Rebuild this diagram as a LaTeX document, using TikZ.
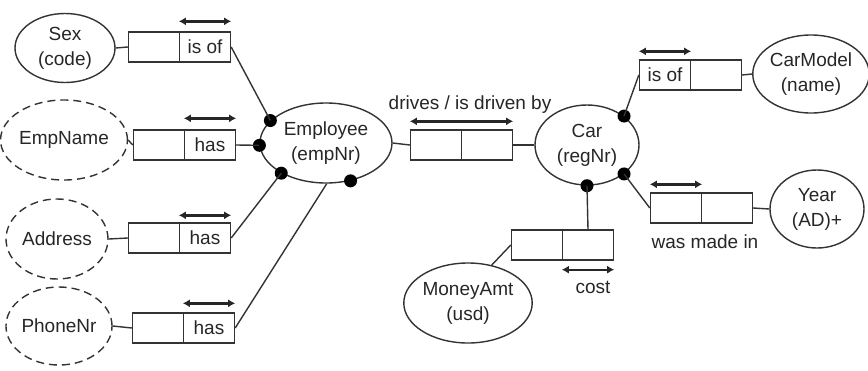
\documentclass[tikz,border=0pt]{standalone}
\usepackage{fontspec}
\setmainfont{Liberation Sans}
\usetikzlibrary{shapes.geometric,arrows.meta}
\begin{document}
\begin{tikzpicture}[x=1pt,y=-1pt,
  every node/.style={font=\fontsize{19}{25}\selectfont, text=black!85},
  ent/.style={ellipse,draw=black!80,line width=1.4pt,inner sep=0pt,align=center},
  valt/.style={ent,dash pattern=on 8pt off 5pt},
  role/.style={rectangle,draw=black!80,line width=1.4pt,minimum width=51pt,minimum height=30pt,inner sep=0pt},
  conn/.style={draw=black!80,line width=1.4pt},
  dotn/.style={circle,fill=black,inner sep=0pt,minimum size=13pt},
  uniq/.style={draw=black!85,line width=2.4pt,{Latex[length=7pt,width=8pt]}-{Latex[length=7pt,width=8pt]}}
]
\useasboundingbox (0,0) rectangle (868,370);

% entity / value ellipses
\node[ent,minimum width=100pt,minimum height=69pt] (sex) at (65,48) {Sex\\(code)};
\node[valt,minimum width=98pt,minimum height=80pt] (empname) at (64,140) {EmpName};
\node[valt,minimum width=102pt,minimum height=80pt] (address) at (57,239) {Address};
\node[valt,minimum width=102pt,minimum height=78pt] (phone) at (59,326) {PhoneNr};
\node[ent,minimum width=132pt,minimum height=80pt] (emp) at (326,143) {Employee\\(empNr)};
\node[ent,minimum width=104pt,minimum height=80pt] (car) at (587,145) {Car\\(regNr)};
\node[ent,minimum width=106pt,minimum height=78pt] (carmodel) at (811,74) {CarModel\\(name)};
\node[ent,minimum width=94pt,minimum height=78pt] (year) at (817,209) {Year\\(AD)+};
\node[ent,minimum width=118pt,minimum height=80pt] (money) at (468,303) {MoneyAmt\\(usd)};

% role boxes
\node[role] (sexL) at (154,47) {};
\node[role] (sexR) at (205,47) {is of};
\node[role] (enL) at (159,145) {};
\node[role] (enR) at (210,145) {has};
\node[role] (adL) at (154,238) {};
\node[role] (adR) at (205,238) {has};
\node[role] (phL) at (158,328) {};
\node[role] (phR) at (209,328) {has};
\node[role] (drL) at (436,145) {};
\node[role] (drR) at (487,145) {};
\node[role] (cmL) at (665,75) {is of};
\node[role] (cmR) at (716,75) {};
\node[role] (yrL) at (676,208) {};
\node[role] (yrR) at (727,208) {};
\node[role] (mnL) at (537,245) {};
\node[role] (mnR) at (588,245) {};

% mandatory dots
\node[dotn] (e1) at (emp.158) {};
\node[dotn] (e2) at (emp.182) {};
\node[dotn] (e3) at (emp.214) {};
\node[dotn] (e4) at (emp.303) {};
\coordinate (e5) at (emp.271);
\node[dotn] (c1) at (car.38) {};
\node[dotn] (c2) at (car.322) {};
\node[dotn] (c3) at (car.270) {};

% connectors
\draw[conn] (sex.east) -- (sexL.west);
\draw[conn] (empname.east) -- (enL.west);
\draw[conn] (address.east) -- (adL.west);
\draw[conn] (phone.east) -- (phL.west);
\draw[conn] (sexR.east) -- (e1.center);
\draw[conn] (enR.east) -- (e2.center);
\draw[conn] (adR.east) -- (e3.center);
\draw[conn] (phR.east) -- (e5);
\draw[conn] (emp.east) -- (drL.west);
\draw[conn] (drR.east) -- (car.west);
\draw[conn] (cmL.west) -- (c1.center);
\draw[conn] (cmR.east) -- (carmodel.west);
\draw[conn] (c2.center) -- (yrL.west);
\draw[conn] (yrR.east) -- (year.west);
\draw[conn] (c3.center) -- (mnR.north);
\draw[conn] (mnL.west) -- (money.58);

% uniqueness constraints
\draw[uniq] ([yshift=10pt]sexR.north west) -- ([yshift=10pt]sexR.north east);
\draw[uniq] ([yshift=11pt]enR.north west) -- ([yshift=11pt]enR.north east);
\draw[uniq] ([yshift=7pt]adR.north west) -- ([yshift=7pt]adR.north east);
\draw[uniq] ([yshift=9pt]phR.north west) -- ([yshift=9pt]phR.north east);
\draw[uniq] ([yshift=8pt]drL.north west) -- ([yshift=8pt]drR.north east);
\draw[uniq] ([yshift=8pt]cmL.north west) -- ([yshift=8pt]cmL.north east);
\draw[uniq] ([yshift=8pt]yrL.north west) -- ([yshift=8pt]yrL.north east);
\draw[uniq] ([yshift=-9pt]mnR.south west) -- ([yshift=-9pt]mnR.south east);

% labels
\node (lbdr) at (470,105) {drives / is driven by};
\node (lbyr) at (705,242) {was made in};
\node (lbmn) at (593,287) {cost};
\end{tikzpicture}
\end{document}
